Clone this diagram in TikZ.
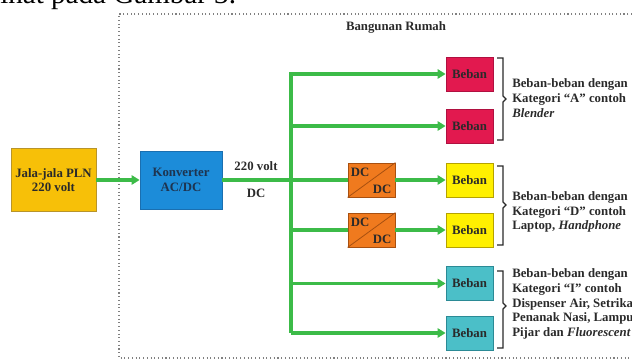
\documentclass[tikz,border=0pt]{standalone}
\usepackage{fontspec}
\setmainfont{Liberation Serif}
\usetikzlibrary{arrows.meta,calc}
\definecolor{gold}{HTML}{F7C008}
\definecolor{goldb}{HTML}{B8942A}
\definecolor{konv}{HTML}{1C8CD9}
\definecolor{konvb}{HTML}{1A6FB0}
\definecolor{bred}{HTML}{E2194F}
\definecolor{bredb}{HTML}{B01040}
\definecolor{byel}{HTML}{FFF000}
\definecolor{byelb}{HTML}{B5A200}
\definecolor{bcyan}{HTML}{4BBFC8}
\definecolor{bcyanb}{HTML}{2B8A95}
\definecolor{borg}{HTML}{F07A1E}
\definecolor{borgb}{HTML}{A85010}
\definecolor{grn}{HTML}{3CBB48}
\definecolor{txt}{HTML}{2A2A2A}
\definecolor{navy}{HTML}{1E3450}
\begin{document}
\begin{tikzpicture}[x=0.75pt,y=-0.75pt,
  lbl/.style={inner sep=0pt,font=\fontsize{9.6}{11}\selectfont\bfseries,text=txt,align=center},
  box/.style={lbl,rectangle,line width=0.6pt},
  beban/.style={box,minimum width=35.25pt,minimum height=25.5pt},
  desc/.style={inner sep=0pt,font=\fontsize{9.6}{11.1}\selectfont\bfseries,text=txt,align=left,anchor=west},
  gline/.style={draw=grn,line width=2.5pt},
  gar/.style={gline,line join=miter,-{Triangle[length=6pt,width=7pt]}},
  brk/.style={draw=txt,line width=1pt}
]
\useasboundingbox (0,0) rectangle (632,363);

% clipped text of the page above
\node[anchor=base west,inner sep=0pt,font=\fontsize{21.8}{24}\selectfont] (toptext) at (-8,3.5) {lihat pada Gambar 3.};

% dotted house border
\draw[dotted,draw=gray,line width=0.8pt] (632,14) -- (119,14) -- (119,358) -- (632,358);
\node[lbl] (rumah) at (396,27) {Bangunan Rumah};

% source and converter
\node[box,fill=gold,draw=goldb,minimum width=63.75pt,minimum height=47.25pt] (pln) at (53.5,180) {Jala-jala PLN\\220 volt};
\node[box,fill=konv,draw=konvb,minimum width=61.5pt,minimum height=43.5pt,text=navy] (konv) at (181,180) {Konverter\\AC/DC};
\node[lbl] (v220) at (256,166) {220 volt};
\node[lbl] (vdc) at (256,193) {DC};

% loads
\node[beban,fill=bred,draw=bredb] (A1) at (469.5,74) {Beban};
\node[beban,fill=bred,draw=bredb] (A2) at (469.5,126) {Beban};
\node[beban,fill=byel,draw=byelb] (D1) at (469.5,180) {Beban};
\node[beban,fill=byel,draw=byelb] (D2) at (469.5,230) {Beban};
\node[beban,fill=bcyan,draw=bcyanb] (I1) at (469.5,283.5) {Beban};
\node[beban,fill=bcyan,draw=bcyanb] (I2) at (469.5,333) {Beban};

% DC/DC converters
\node[beban,fill=borg,draw=borgb] (dc1) at (371.5,180) {};
\node[beban,fill=borg,draw=borgb] (dc2) at (371.5,230) {};
\draw[draw=borgb,line width=0.6pt] (dc1.south west) -- (dc1.north east);
\draw[draw=borgb,line width=0.6pt] (dc2.south west) -- (dc2.north east);
\node[lbl] (dc1a) at (360,172) {DC};
\node[lbl] (dc1b) at (382,189) {DC};
\node[lbl] (dc2a) at (360,222) {DC};
\node[lbl] (dc2b) at (382,239) {DC};

% connectors
\coordinate (bus) at (291,0);
\draw[gar] (pln) -- (konv);
\draw[gline] (konv.east) -- (dc1.west);
\draw[gar] (bus |- I2) -- (bus |- A1) -- (A1);
\draw[gar] (bus |- A2) -- (A2);
\draw[gline] (bus |- dc2) -- (dc2);
\draw[gar] (bus |- I1) -- (I1);
\draw[gar] (bus |- I2) -- (I2);
\draw[gar] (dc1) -- (D1);
\draw[gar] (dc2) -- (D2);

% brackets
\draw[brk] (497,58) -- (503,58) -- (503,96) -- (506,99) -- (503,102) -- (503,140) -- (497,140);
\draw[brk] (497,166) -- (503,166) -- (503,202) -- (506,205) -- (503,208) -- (503,245) -- (497,245);
\draw[brk] (497,271) -- (503,271) -- (503,303) -- (506,306) -- (503,309) -- (503,348) -- (497,348);

% descriptions
\node[desc] (tA) at (512,98) {Beban-beban dengan\\Kategori “A” contoh\\\textit{Blender}};
\node[desc] (tD) at (512,212) {Beban-beban dengan\\Kategori “D” contoh\\Laptop, \textit{Handphone}};
\node[desc] (tI) at (512,304) {Beban-beban dengan\\Kategori “I” contoh\\Dispenser Air, Setrika\\Penanak Nasi, Lampu\\Pijar dan \textit{Fluorescent}};
\end{tikzpicture}
\end{document}
